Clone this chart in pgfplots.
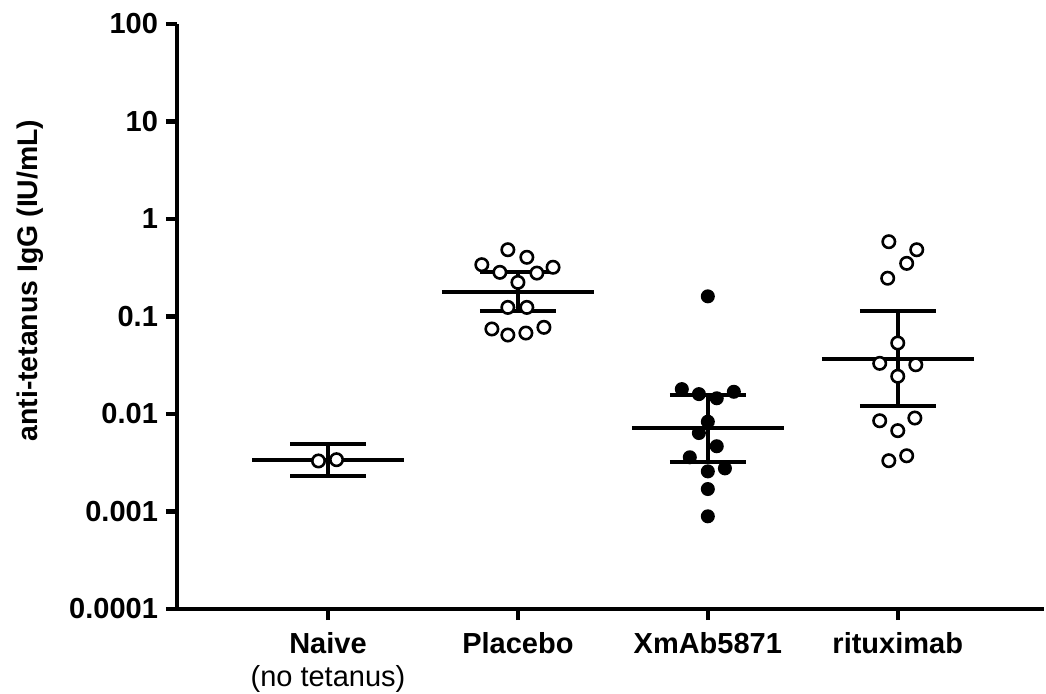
\documentclass[border=0pt]{standalone}
\usepackage{fontspec}
\setmainfont{Liberation Sans}
\usepackage{pgfplots}
\pgfplotsset{compat=1.18}
\usetikzlibrary{calc}
\begin{document}
\begin{tikzpicture}
\begin{axis}[
  name=ax, at={(0,0)}, anchor=south west,
  scale only axis, width=433.5pt, height=292.5pt,
  ymode=log, ymin=1e-4, ymax=100,
  xmin=0.205, xmax=4.77,
  axis x line*=bottom, axis y line*=left,
  axis line style={-, line width=2.4pt, black},
  tick align=outside, major tick length=5.5pt,
  tick style={line width=2.2pt, black},
  yminorticks=false,
  ytick={1e-4,1e-3,1e-2,1e-1,1,10,100},
  yticklabels={0.0001,0.001,0.01,0.1,1,10,100},
  yticklabel style={font=\fontsize{14.5}{17}\selectfont\bfseries, xshift=-0.5pt},
  xtick={1,2,3,4},
  xticklabels={{\textbf{Naive}\\(no tetanus)},\textbf{Placebo},\textbf{XmAb5871},\textbf{rituximab}},
  xticklabel style={align=center, font=\fontsize{14.5}{16.5}\selectfont, yshift=-2.5pt},
  ylabel={\textbf{anti-tetanus IgG (IU/mL)}},
  ylabel style={font=\fontsize{14.2}{16}\selectfont, at={(axis description cs:-0.1696,0.5615)}, anchor=center, rotate=0},
  clip=false,
  grp/.style={black, line width=1.9pt, mark=none, forget plot},
  opn/.style={only marks, mark=*, mark size=3.1pt, mark options={draw=black, fill=white, line width=1.3pt}},
  fll/.style={only marks, mark=*, mark size=3.0pt, mark options={draw=black, fill=black, line width=1pt}},
]
% Naive
\addplot[grp] coordinates {(0.6,0.0034) (1.4,0.0034)};
\addplot[grp] coordinates {(1,0.0023) (1,0.0049)};
\addplot[grp] coordinates {(0.8,0.0049) (1.2,0.0049)};
\addplot[grp] coordinates {(0.8,0.0023) (1.2,0.0023)};
% Placebo
\addplot[grp] coordinates {(1.6,0.177) (2.4,0.177)};
\addplot[grp] coordinates {(2,0.1146) (2,0.284)};
\addplot[grp] coordinates {(1.8,0.284) (2.2,0.284)};
\addplot[grp] coordinates {(1.8,0.1146) (2.2,0.1146)};
% XmAb5871
\addplot[grp] coordinates {(2.6,0.00713) (3.4,0.00713)};
\addplot[grp] coordinates {(3,0.0032) (3,0.01567)};
\addplot[grp] coordinates {(2.8,0.01567) (3.2,0.01567)};
\addplot[grp] coordinates {(2.8,0.0032) (3.2,0.0032)};
% rituximab
\addplot[grp] coordinates {(3.6,0.0366) (4.4,0.0366)};
\addplot[grp] coordinates {(4,0.0120) (4,0.1146)};
\addplot[grp] coordinates {(3.8,0.1146) (4.2,0.1146)};
\addplot[grp] coordinates {(3.8,0.0120) (4.2,0.0120)};
% points
\addplot[opn] coordinates {(0.95,0.0033) (1.045,0.0034)};
\addplot[opn] coordinates {
(1.947,0.484) (2.047,0.405) (1.81,0.340) (1.905,0.284) (2.10,0.279) (2.185,0.320)
(2.0,0.224) (1.947,0.124) (2.047,0.124) (1.863,0.0745) (1.947,0.0646) (2.042,0.0677) (2.137,0.0775)};
\addplot[fll] coordinates {
(3.0,0.161) (2.863,0.0180) (2.953,0.0160) (3.047,0.0145) (3.137,0.0169) (3.0,0.00834)
(2.953,0.00638) (3.047,0.00467) (2.905,0.00360) (3.0,0.00258) (3.09,0.00277) (3.0,0.00170) (3.0,0.000893)};
\addplot[opn] coordinates {
(3.953,0.585) (4.10,0.484) (4.047,0.351) (3.947,0.247) (4.0,0.0535) (3.905,0.0331)
(4.095,0.0320) (4.0,0.0244) (3.905,0.00853) (4.09,0.0091) (4.0,0.00675) (3.953,0.00332) (4.047,0.00373)};
\end{axis}
\pgfresetboundingbox
\path[use as bounding box] ($(ax.south west)+(-88.5pt,-42pt)$) rectangle ($(ax.south west)+(434.5pt,304.5pt)$);
\end{tikzpicture}
\end{document}
